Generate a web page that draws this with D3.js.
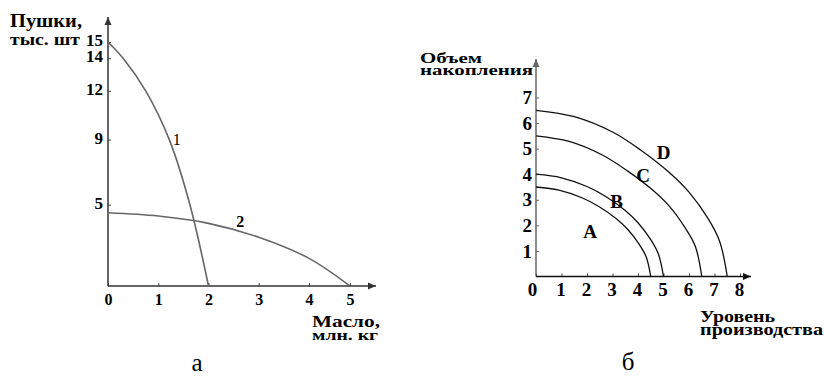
<!DOCTYPE html>
<html>
<head>
<meta charset="utf-8">
<script src="https://cdn.jsdelivr.net/npm/d3@7"></script>
<style>
  body { margin: 0; background: #fff; }
  svg { display: block; }
  text { font-family: "Liberation Serif", "Times New Roman", serif; }
</style>
</head>
<body>
<svg id="chart" width="824" height="376"></svg>
<script>
// --- panel "а": guns vs butter ---
const gunsTicks = [5, 9, 12, 14, 15];
const butterTicks = [0, 1, 2, 3, 4, 5];
const curve1Butter = [0, 0.3, 0.75, 1.22, 1.63, 2];
const curve1Guns = [15, 14, 12, 9, 5, 0];
const curve2Butter = [0, 1, 2, 3, 4, 5];
const curve2Guns = [4.5, 4.3, 3.85, 3.0, 1.7, 0];

// --- panel "б": accumulation vs production ---
const accumTicks = [1, 2, 3, 4, 5, 6, 7];
const prodTicks = [0, 1, 2, 3, 4, 5, 6, 7, 8];
const curveNames = ["A", "B", "C", "D"];
const curveProd = [
  [0, 0.9, 1.8, 2.48, 3.15, 3.6, 4.05, 4.32, 4.5],
  [0, 1, 2, 2.75, 3.5, 4, 4.5, 4.8, 5],
  [0, 1.3, 2.6, 3.6, 4.55, 5.2, 5.85, 6.25, 6.5],
  [0, 1.5, 3, 4.1, 5.25, 6, 6.75, 7.2, 7.5],
];
const curveAccum = [
  [3.5, 3.38, 3.08, 2.73, 2.26, 1.84, 1.26, 0.77, 0],
  [4, 3.86, 3.52, 3.12, 2.58, 2.1, 1.44, 0.88, 0],
  [5.5, 5.28, 4.75, 4.12, 3.4, 2.78, 1.9, 1.17, 0],
  [6.5, 6.25, 5.65, 4.95, 4.05, 3.3, 2.26, 1.38, 0],
];
const curveLabelPos = [[2.12, 1.75], [3.16, 2.93], [4.2, 3.97], [5.0, 4.86]];

const svg = d3.select("#chart");
const fmt = d3.format("d");

// arrow heads
const defs = svg.append("defs");
function arrow(id, color) {
  defs.append("marker")
    .attr("id", id)
    .attr("viewBox", "0 -4 8 8")
    .attr("refX", 8)
    .attr("refY", 0)
    .attr("markerWidth", 8)
    .attr("markerHeight", 8)
    .attr("markerUnits", "userSpaceOnUse")
    .attr("orient", "auto")
    .append("path")
    .attr("d", "M0,-3.5L8,0L0,3.5Z")
    .attr("fill", color);
}
arrow("arrL", "#333");
arrow("arrR", "#111");
arrow("arrRg", "#666");

function styleTicks(ax, size, tickColor) {
  ax.attr("font-family", null).attr("font-size", null);
  ax.select(".domain").remove();
  ax.selectAll(".tick line").attr("stroke", tickColor);
  return ax.selectAll("text")
    .style("font-size", size + "px")
    .style("font-weight", "bold")
    .attr("fill", "#000");
}

// ================= left panel =================
const xL = d3.scaleLinear().domain([0, 4, 5]).range([108, 309, 350]);
const yL = d3.scaleLinear().domain([0, 15]).range([286, 42]);

const gL = svg.append("g");

// y axis
const yAxL = gL.append("g")
  .attr("transform", `translate(${xL(0)},0)`)
  .call(d3.axisLeft(yL).tickValues(gunsTicks).tickFormat(fmt)
    .tickSize(-3).tickSizeOuter(0).tickPadding(5));
styleTicks(yAxL, 17, "#444").attr("dy", "0.2em");

// x axis
const xAxL = gL.append("g")
  .attr("transform", `translate(0,${yL(0)})`)
  .call(d3.axisBottom(xL).tickValues(butterTicks).tickFormat(fmt)
    .tickSize(-3).tickSizeOuter(0).tickPadding(8));
styleTicks(xAxL, 16, "#444");

gL.append("line")
  .attr("x1", xL(0)).attr("y1", yL(0))
  .attr("x2", xL(0)).attr("y2", 17)
  .attr("stroke", "#333").attr("stroke-width", 1.5)
  .attr("marker-end", "url(#arrL)");
gL.append("line")
  .attr("x1", xL(0)).attr("y1", yL(0))
  .attr("x2", 376).attr("y2", yL(0))
  .attr("stroke", "#333").attr("stroke-width", 1.5)
  .attr("marker-end", "url(#arrL)");

const lineL = d3.line()
  .x((d) => xL(d[0]))
  .y((d) => yL(d[1]))
  .curve(d3.curveCatmullRom.alpha(0.5));

gL.append("path")
  .datum(d3.zip(curve1Butter, curve1Guns))
  .attr("d", lineL)
  .attr("fill", "none")
  .attr("stroke", "#666")
  .attr("stroke-width", 1.6);
gL.append("path")
  .datum(d3.zip(curve2Butter, curve2Guns))
  .attr("d", lineL)
  .attr("fill", "none")
  .attr("stroke", "#666")
  .attr("stroke-width", 1.6);

gL.append("text")
  .attr("x", xL(1.37)).attr("y", yL(9.04))
  .attr("dy", "0.35em").attr("text-anchor", "middle")
  .attr("font-size", 16)
  .text("1");
gL.append("text")
  .attr("x", xL(2.63)).attr("y", yL(3.95))
  .attr("dy", "0.35em").attr("text-anchor", "middle")
  .attr("font-size", 16).attr("font-weight", "bold")
  .text("2");

// titles
function label(g, x, y, str, size, len, weight) {
  const t = g.append("text")
    .attr("x", x).attr("y", y)
    .attr("font-size", size)
    .attr("font-weight", weight || "bold")
    .text(str);
  if (len) t.attr("textLength", len).attr("lengthAdjust", "spacingAndGlyphs");
  return t;
}
label(gL, 10, 27, "Пушки,", 18, 72);
label(gL, 10, 45, "тыс. шт", 17, 70);
label(gL, 312, 327, "Масло,", 17, 68);
label(gL, 312, 340, "млн. кг", 14, 66);
label(gL, 197, 371, "а", 25, null, "normal").attr("text-anchor", "middle");

// ================= right panel =================
const xR = d3.scaleLinear().domain([0, 8]).range([536, 740]);
const yR = d3.scaleLinear().domain([0, 7]).range([276.5, 97.5]);

const gR = svg.append("g");

const yAxR = gR.append("g")
  .attr("transform", `translate(${xR(0)},0)`)
  .call(d3.axisLeft(yR).tickValues(accumTicks).tickFormat(fmt)
    .tickSize(-3).tickSizeOuter(0).tickPadding(4));
styleTicks(yAxR, 19, "#666");

const xAxR = gR.append("g")
  .attr("transform", `translate(0,${yR(0)})`)
  .call(d3.axisBottom(xR).tickValues(prodTicks).tickFormat(fmt)
    .tickSize(-3).tickSizeOuter(0).tickPadding(6));
styleTicks(xAxR, 19, "#444").attr("dx", (d) => (d === 0 ? -4 : -1));

gR.append("line")
  .attr("x1", xR(0)).attr("y1", yR(0))
  .attr("x2", xR(0)).attr("y2", 59)
  .attr("stroke", "#666").attr("stroke-width", 1.5)
  .attr("marker-end", "url(#arrRg)");
gR.append("line")
  .attr("x1", xR(0)).attr("y1", yR(0))
  .attr("x2", 751).attr("y2", yR(0))
  .attr("stroke", "#111").attr("stroke-width", 1.5)
  .attr("marker-end", "url(#arrR)");

const lineR = d3.line()
  .x((d) => xR(d[0]))
  .y((d) => yR(d[1]))
  .curve(d3.curveCatmullRom.alpha(0.5));

curveNames.forEach((name, i) => {
  gR.append("path")
    .datum(d3.zip(curveProd[i], curveAccum[i]))
    .attr("d", lineR)
    .attr("fill", "none")
    .attr("stroke", "#111")
    .attr("stroke-width", 1.3);
  gR.append("text")
    .attr("x", xR(curveLabelPos[i][0]))
    .attr("y", yR(curveLabelPos[i][1]))
    .attr("dy", "0.35em").attr("text-anchor", "middle")
    .attr("font-size", 19).attr("font-weight", "bold")
    .text(name);
});

label(gR, 420, 63, "Объем", 15, 62);
label(gR, 420, 75, "накопления", 15, 113);
label(gR, 700, 322, "Уровень", 16, 75);
label(gR, 700, 335, "производства", 16, 123);
label(gR, 628, 370, "б", 25, null, "normal").attr("text-anchor", "middle");
</script>
</body>
</html>
